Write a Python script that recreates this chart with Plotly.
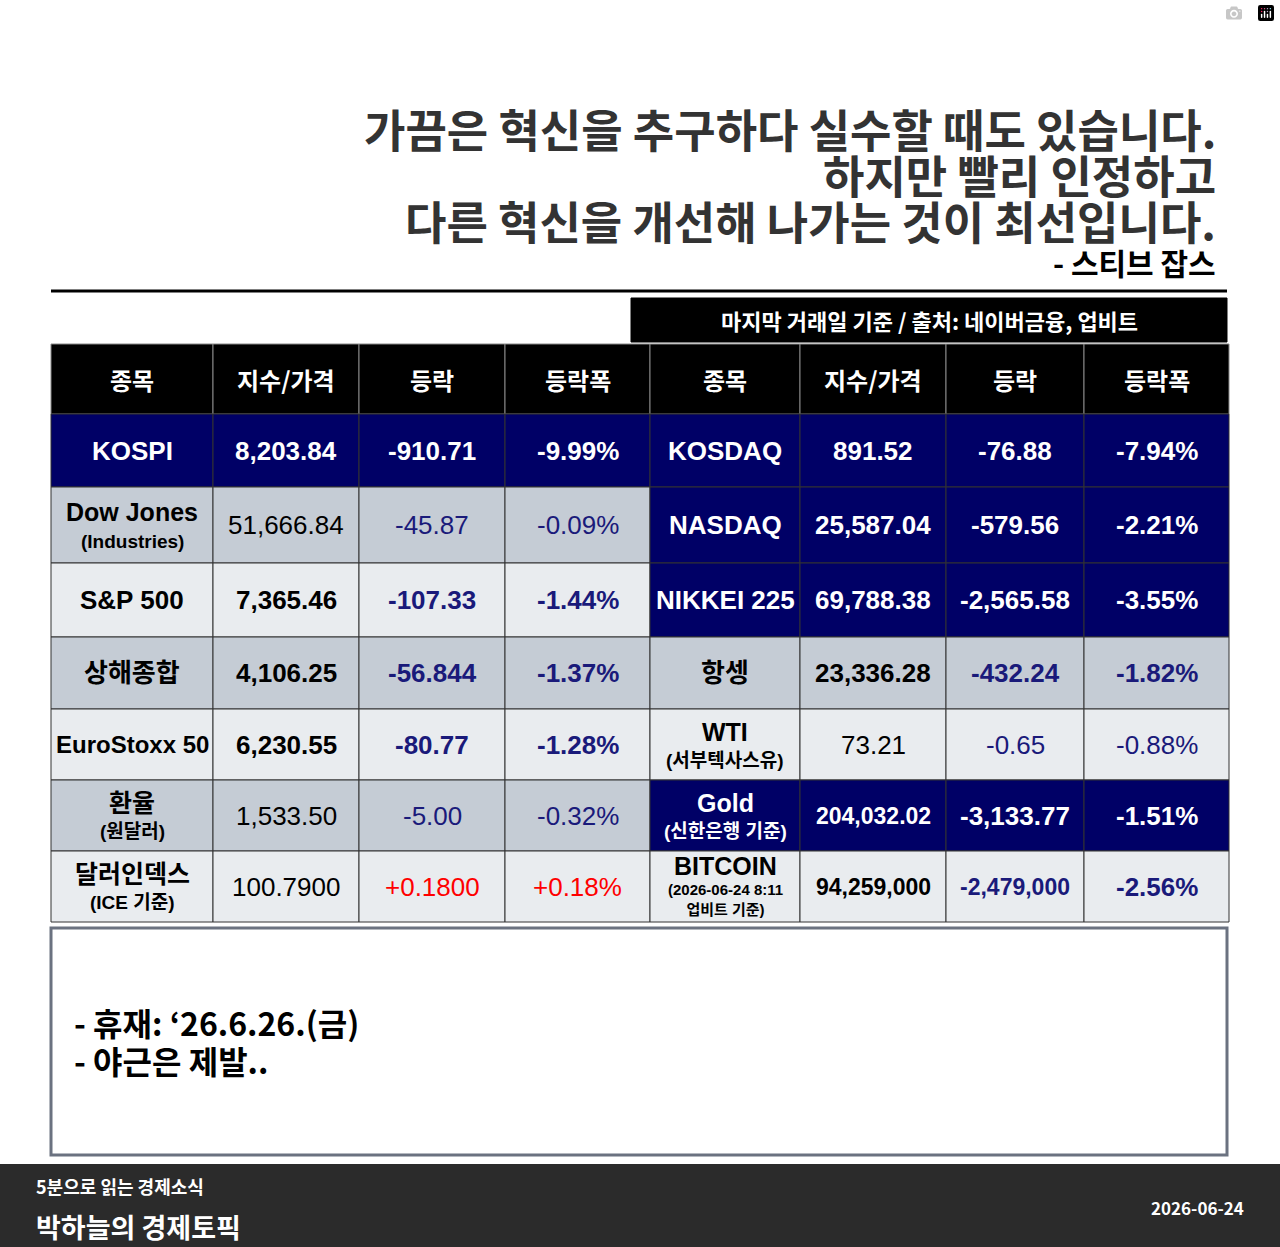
import plotly.graph_objects as go

# ---- data ----
headers = ["종목", "지수/가격", "등락", "등락폭", "종목", "지수/가격", "등락", "등락폭"]

left_names = ["KOSPI", "Dow Jones", "S&P 500", "상해종합", "EuroStoxx 50", "환율", "달러인덱스"]
left_subs = ["", "(Industries)", "", "", "", "(원달러)", "(ICE 기준)"]
left_price = ["8,203.84", "51,666.84", "7,365.46", "4,106.25", "6,230.55", "1,533.50", "100.7900"]
left_chg = ["-910.71", "-45.87", "-107.33", "-56.844", "-80.77", "-5.00", "+0.1800"]
left_pct = ["-9.99%", "-0.09%", "-1.44%", "-1.37%", "-1.28%", "-0.32%", "+0.18%"]
left_bg = ["navy", "grey", "light", "grey", "light", "grey", "light"]
left_bold = [True, False, True, True, True, False, False]

right_names = ["KOSDAQ", "NASDAQ", "NIKKEI 225", "항셍", "WTI", "Gold", "BITCOIN"]
right_subs = ["", "", "", "", "(서부텍사스유)", "(신한은행 기준)", "(2026-06-24 8:11<br>업비트 기준)"]
right_price = ["891.52", "25,587.04", "69,788.38", "23,336.28", "73.21", "204,032.02", "94,259,000"]
right_chg = ["-76.88", "-579.56", "-2,565.58", "-432.24", "-0.65", "-3,133.77", "-2,479,000"]
right_pct = ["-7.94%", "-2.21%", "-3.55%", "-1.82%", "-0.88%", "-1.51%", "-2.56%"]
right_bg = ["navy", "navy", "navy", "grey", "light", "navy", "light"]
right_bold = [True, True, True, True, False, True, True]

quote = ["가끔은 혁신을 추구하다 실수할 때도 있습니다.", "하지만 빨리 인정하고", "다른 혁신을 개선해 나가는 것이 최선입니다."]
notes = ["- 휴재: ‘26.6.26.(금)", "- 야근은 제발.."]

# ---- layout constants ----
W, H = 1280, 1247
col_x = [51, 213, 359, 505, 650, 800, 946, 1084, 1229]
row_y = [344, 414, 487, 563, 637, 709, 780, 851, 922]
BG = {"navy": "#000066", "grey": "#c5ccd5", "light": "#e9ecef"}
NAVYTXT = "#1a1a7a"
FONT = "Liberation Sans, Noto Sans CJK KR, sans-serif"

fig = go.Figure()
shapes, anns = [], []

def rect(x0, y0, x1, y1, fill, line="#333333", lw=1):
    shapes.append(dict(type="rect", xref="x", yref="y", x0=x0, y0=y0, x1=x1, y1=y1,
                       fillcolor=fill, line=dict(color=line, width=lw), layer="below"))

def text(x, y, t, size, color="black", bold=False, xanchor="center", family=FONT):
    if bold:
        t = "<b>" + t + "</b>"
    anns.append(dict(x=x, y=y, xref="x", yref="y", text=t, showarrow=False,
                     font=dict(size=size, color=color, family=family),
                     xanchor=xanchor, yanchor="middle"))

# quote
for i, line in enumerate(quote):
    text(1218, 128 + i * 46, line, 45, "#333333", True, "right", "Noto Sans CJK KR")
text(1218, 262, "- 스티브 잡스", 30, "black", True, "right", "Noto Sans CJK KR")
shapes.append(dict(type="line", xref="x", yref="y", x0=51, x1=1227, y0=291, y1=291,
                   line=dict(color="black", width=3)))
rect(631, 298, 1227, 342, "black", "black")
text(929, 320, "마지막 거래일 기준 / 출처: 네이버금융, 업비트", 22, "white", True, family="Noto Sans CJK KR")

# header
for c, h in enumerate(headers):
    rect(col_x[c], row_y[0], col_x[c + 1], row_y[1], "black", "#888888")
    text((col_x[c] + col_x[c + 1]) / 2, (row_y[0] + row_y[1]) / 2, h, 24, "white", True,
         family="Noto Sans CJK KR")

def val_color(bg, v, is_price):
    if bg == "navy":
        return "white"
    if is_price:
        return "black"
    return "red" if v.startswith("+") else NAVYTXT

def draw_side(c0, names, subs, prices, chgs, pcts, bgs, bolds):
    for r in range(len(names)):
        y0, y1 = row_y[r + 1], row_y[r + 2]
        yc = (y0 + y1) / 2
        bg = bgs[r]
        for k in range(4):
            rect(col_x[c0 + k], y0, col_x[c0 + k + 1], y1, BG[bg])
        xc = [(col_x[c0 + k] + col_x[c0 + k + 1]) / 2 for k in range(4)]
        ncol = "white" if bg == "navy" else "black"
        nsize = 26 if len(names[r]) < 11 else 24
        if subs[r]:
            two = "<br>" in subs[r]
            ssize = 15 if two else 19
            ny = yc - 21 if two else yc - 13
            sy = yc + 13 if two else yc + 16
            text(xc[0], ny, names[r], 25, ncol, True)
            text(xc[0], sy, subs[r], ssize, ncol, True)
        else:
            text(xc[0], yc, names[r], nsize, ncol, True)
        for k, v in enumerate([prices[r], chgs[r], pcts[r]]):
            size = 26
            if len(v) >= 10:
                size = 23
            text(xc[k + 1], yc, v, size, val_color(bg, v, k == 0), bolds[r])

draw_side(0, left_names, left_subs, left_price, left_chg, left_pct, left_bg, left_bold)
draw_side(4, right_names, right_subs, right_price, right_chg, right_pct, right_bg, right_bold)

# notes box
rect(51, 928, 1227, 1155, "white", "#6b7280", 3)
for i, n in enumerate(notes):
    text(72, 1022 + i * 38, n, 32, "black", True, "left", "Noto Sans CJK KR")

# footer
rect(0, 1164, 1280, 1247, "#2b2b2b", "#2b2b2b", 0)
text(34, 1186, "5분으로 읽는 경제소식", 18, "white", True, "left", "Noto Sans CJK KR")
text(34, 1226, "박하늘의 경제토픽", 27, "white", True, "left", "Noto Sans CJK KR")
text(1246, 1207, "2026-06-24", 17, "white", True, "right", "Noto Sans CJK KR")

fig.update_layout(
    width=W, height=H, margin=dict(l=0, r=0, t=0, b=0),
    paper_bgcolor="white", plot_bgcolor="white",
    xaxis=dict(range=[0, W], visible=False, fixedrange=True),
    yaxis=dict(range=[H, 0], visible=False, fixedrange=True),
    shapes=shapes, annotations=anns, showlegend=False,
)
fig.write_html("out.html", post_script="document.body.style.margin='0';")
